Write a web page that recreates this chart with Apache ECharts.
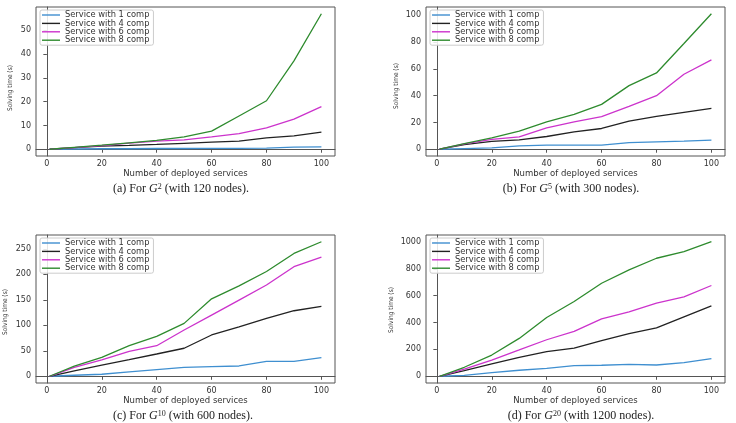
<!DOCTYPE html>
<html>
<head>
<meta charset="utf-8">
<script src="https://cdn.jsdelivr.net/npm/echarts@6/dist/echarts.min.js"></script>
<style>
  html, body { margin: 0; padding: 0; background: #fff; }
  #chart { width: 736px; height: 423px; }
</style>
</head>
<body>
<div id="chart"></div>
<script>
// x: number of deployed services
const services = [1, 10, 20, 30, 40, 50, 60, 70, 80, 90, 100];
const names = ['Service with 1 comp', 'Service with 4 comp', 'Service with 6 comp', 'Service with 8 comp'];
const colors = ['#3f8fd0', '#222222', '#cc33cc', '#2e8b2e'];

// (a) G^2, 120 nodes
const g2_c1 = [0, 0.1, 0.2, 0.2, 0.3, 0.3, 0.4, 0.4, 0.5, 0.9, 1.0];
const g2_c4 = [0, 0.7, 1.3, 1.6, 2.0, 2.5, 3.0, 3.4, 4.8, 5.6, 7.2];
const g2_c6 = [0, 0.7, 1.5, 2.6, 3.4, 3.9, 5.2, 6.6, 9.0, 12.7, 17.9];
const g2_c8 = [0, 0.8, 1.7, 2.7, 3.7, 5.2, 7.6, 14.0, 20.4, 37.2, 57.0];
// (b) G^5, 300 nodes
const g5_c1 = [0, 0.5, 1.0, 2.5, 3.0, 3.0, 3.0, 5.0, 5.5, 6.0, 6.8];
const g5_c4 = [0, 3.5, 5.8, 7.0, 9.5, 13.0, 15.5, 21.0, 24.5, 27.5, 30.5];
const g5_c6 = [0, 4.0, 7.3, 9.3, 16.0, 20.5, 24.3, 32.0, 40.0, 56.0, 66.8];
const g5_c8 = [0, 4.2, 8.5, 13.5, 20.5, 26.0, 33.5, 47.5, 57.0, 79.0, 101.2];
// (c) G^10, 600 nodes
const g10_c1 = [0, 2, 4, 8.5, 13, 17.6, 19, 20.2, 29.4, 29.4, 36.5];
const g10_c4 = [0, 10.5, 22, 32.6, 43.7, 55, 81, 97, 113.6, 128.6, 137];
const g10_c6 = [0, 17.6, 32, 49, 60, 90.7, 120, 149.5, 179, 215, 234];
const g10_c8 = [0, 20, 37, 60, 78.3, 103.8, 152, 177.5, 205.6, 241, 264];
// (d) G^20, 1200 nodes
const g20_c1 = [0, 7, 27, 45, 59, 79, 82, 89, 84, 101, 131];
const g20_c4 = [0, 42, 92, 141, 183, 210, 265, 317, 361, 443, 525];
const g20_c6 = [0, 54, 121, 196, 272, 334, 428, 480, 545, 592, 676];
const g20_c8 = [0, 67, 158, 282, 438, 557, 693, 792, 879, 928, 1002];

const xTicks = [0, 20, 40, 60, 80, 100];
const yTicks = [
  [0, 10, 20, 30, 40, 50],
  [0, 20, 40, 60, 80, 100],
  [0, 50, 100, 150, 200, 250],
  [0, 200, 400, 600, 800, 1000]
];
const panels = [
  [g2_c1, g2_c4, g2_c6, g2_c8],
  [g5_c1, g5_c4, g5_c6, g5_c8],
  [g10_c1, g10_c4, g10_c6, g10_c8],
  [g20_c1, g20_c4, g20_c6, g20_c8]
];
const captions = [
  ['(a)', '2', '120'],
  ['(b)', '5', '300'],
  ['(c)', '10', '600'],
  ['(d)', '20', '1200']
];

const grids = [
  { left: 36, top: 7, width: 299, height: 149 },
  { left: 426, top: 7, width: 299, height: 149 },
  { left: 36, top: 235, width: 299, height: 148 },
  { left: 426, top: 235, width: 299, height: 148 }
];
const yTitlePos = [[10.5, 88], [396, 86], [5.5, 312], [391, 310]];
const capPos = [[181, 189], [571, 189], [183, 416], [581, 416]];

const frame = '#555555';
const textCol = '#333333';
const sans = 'DejaVu Sans';
const pad = (v) => v.min - 0.05 * (v.max - v.min);
const padMax = (v) => v.max + 0.05 * (v.max - v.min);

const chart = echarts.init(document.getElementById('chart'));

const option = {
  animation: false,
  backgroundColor: '#ffffff',
  grid: grids.map(g => Object.assign({ show: true, borderColor: frame, borderWidth: 1, backgroundColor: 'transparent' }, g)),
  xAxis: grids.map((g, i) => ({
    type: 'value',
    gridIndex: i,
    min: pad,
    max: padMax,
    name: 'Number of deployed services',
    nameLocation: 'middle',
    nameGap: 9.5,
    nameTextStyle: { fontSize: 8.5, fontFamily: sans, color: textCol },
    axisLine: { show: true, lineStyle: { color: frame, width: 1 } },
    axisTick: { show: true, length: 3.5, customValues: xTicks, lineStyle: { color: frame } },
    axisLabel: { show: true, customValues: xTicks, margin: 4, fontSize: 8, fontFamily: sans, color: textCol, formatter: v => String(v) },
    splitLine: { show: false }
  })),
  yAxis: grids.map((g, i) => ({
    type: 'value',
    gridIndex: i,
    min: pad,
    max: padMax,
    axisLine: { show: true, lineStyle: { color: frame, width: 1 } },
    axisTick: { show: true, length: 3.5, customValues: yTicks[i], lineStyle: { color: frame } },
    axisLabel: { show: true, customValues: yTicks[i], margin: 5, fontSize: 8, fontFamily: sans, color: textCol, formatter: v => String(v) },
    splitLine: { show: false }
  })),
  legend: grids.map((g, i) => ({
    orient: 'vertical',
    left: g.left + 4,
    top: g.top + 3,
    data: names,
    selectedMode: false,
    icon: 'rect',
    itemWidth: 18,
    itemHeight: 1.4,
    itemGap: 0.4,
    padding: [1, 4, 1, 2],
    borderColor: '#cccccc',
    borderWidth: 1,
    borderRadius: 2,
    backgroundColor: 'rgba(255,255,255,0.85)',
    textStyle: { fontSize: 8.3, fontFamily: sans, color: textCol, lineHeight: 8 }
  })),
  series: [],
  graphic: []
};

panels.forEach((sets, p) => {
  sets.forEach((vals, k) => {
    option.series.push({
      name: names[k],
      type: 'line',
      xAxisIndex: p,
      yAxisIndex: p,
      showSymbol: false,
      symbol: 'none',
      color: colors[k],
      lineStyle: { color: colors[k], width: 1.3 },
      data: services.map((x, j) => [x, vals[j]])
    });
  });
  option.graphic.push({
    type: 'text',
    x: yTitlePos[p][0],
    y: yTitlePos[p][1],
    rotation: Math.PI / 2,
    style: {
      text: 'Solving time (s)',
      fontSize: 6.5,
      fontFamily: 'Liberation Sans Narrow, DejaVu Sans Condensed, Liberation Sans',
      fill: textCol,
      align: 'center',
      verticalAlign: 'middle'
    }
  });
  const c = captions[p];
  option.graphic.push({
    type: 'text',
    x: capPos[p][0],
    y: capPos[p][1],
    style: {
      text: c[0] + ' For {g|G}{s|' + c[1] + '} (with ' + c[2] + ' nodes).',
      fontSize: 12,
      fontFamily: 'Liberation Serif',
      fill: '#222',
      align: 'center',
      verticalAlign: 'middle',
      rich: {
        g: { fontSize: 12, fontFamily: 'Liberation Serif', fontStyle: 'italic', fill: '#222' },
        s: { fontSize: 8, fontFamily: 'Liberation Serif', fill: '#222', verticalAlign: 'top' }
      }
    }
  });
});

chart.setOption(option);
window.addEventListener('resize', () => {
  chart.resize();
});
</script>
</body>
</html>
